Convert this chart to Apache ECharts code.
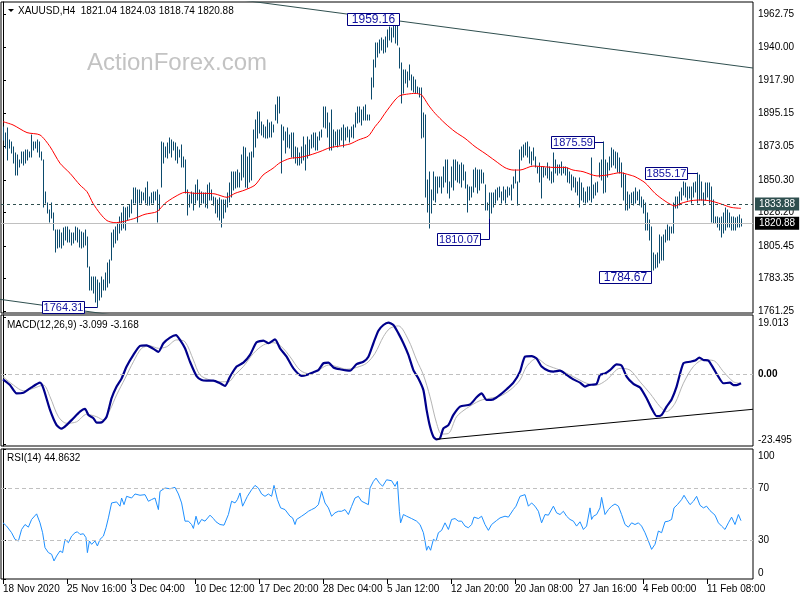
<!DOCTYPE html>
<html><head><meta charset="utf-8">
<script src="https://cdn.jsdelivr.net/npm/echarts@6/dist/echarts.min.js"></script>
<style>html,body{margin:0;padding:0;background:#fff}#c{width:800px;height:600px}</style>
</head><body><div id="c"></div>
<script>
// ---------------- DATA ----------------
const symbolName = 'XAUUSD,H4';
const lastOHLC = [1821.04, 1824.03, 1818.74, 1820.88];
const refLevel = 1833.88;
// H4 bars: [high, low], one per bar index 0..369
const bars = [
[1886.3,1877.3],[1881.8,1871.6],[1885.2,1863.7],[1877.3,1871.6],[1876.2,1868.2],[1872.8,1861.5],[1868.2,1853.5],[1867.1,1853.5],[1863.7,1859.2],[1869.4,1861.5],
[1869.4,1860.3],[1870.5,1861.5],[1870.5,1863.7],[1869.4,1866.0],[1880.7,1866.0],[1876.2,1870.5],[1876.2,1871.6],[1877.3,1869.4],[1876.2,1866.0],[1869.4,1863.7],
[1863.7,1832.1],[1842.2,1834.3],[1834.3,1827.5],[1829.8,1821.9],[1834.3,1824.2],[1827.5,1816.2],[1816.2,1801.6],[1816.2,1803.8],[1816.2,1804.9],[1814.0,1803.8],
[1817.4,1806.1],[1818.5,1809.5],[1818.5,1808.3],[1816.2,1808.3],[1814.0,1806.1],[1814.0,1807.2],[1818.5,1809.5],[1817.4,1808.3],[1816.2,1804.9],[1815.1,1803.8],
[1814.0,1804.9],[1816.2,1806.1],[1811.7,1791.4],[1791.4,1775.5],[1784.6,1775.5],[1784.6,1773.3],[1784.6,1767.6],[1782.3,1764.31],[1780.0,1768.8],[1784.6,1771.0],
[1782.3,1775.5],[1786.8,1775.5],[1793.6,1777.8],[1795.9,1780.0],[1814.0,1795.9],[1816.2,1804.9],[1818.5,1807.2],[1820.8,1809.5],[1825.3,1814.0],[1827.5,1816.2],
[1832.1,1817.4],[1831.0,1816.2],[1832.1,1823.0],[1833.2,1825.3],[1836.6,1827.5],[1844.5,1834.3],[1844.5,1834.3],[1843.4,1821.9],[1843.4,1834.3],[1842.2,1834.3],
[1841.1,1836.6],[1844.5,1834.3],[1849.0,1833.2],[1838.8,1833.2],[1841.1,1834.3],[1842.2,1834.3],[1842.2,1836.6],[1843.4,1821.9],[1840.0,1829.8],[1876.2,1845.6],
[1875.0,1861.5],[1872.8,1866.0],[1875.0,1864.8],[1878.4,1868.2],[1877.3,1866.0],[1876.2,1870.5],[1875.0,1863.7],[1872.8,1861.5],[1870.5,1866.0],[1873.9,1859.2],
[1866.0,1859.2],[1863.7,1841.1],[1843.4,1826.4],[1840.0,1832.1],[1842.2,1834.3],[1841.1,1829.8],[1846.7,1834.3],[1850.2,1836.6],[1843.4,1832.1],[1842.2,1834.3],
[1841.1,1834.3],[1841.1,1832.1],[1846.7,1830.9],[1847.9,1836.6],[1843.4,1836.6],[1838.8,1833.2],[1837.7,1827.5],[1836.6,1825.3],[1837.7,1823.0],[1836.6,1818.5],
[1836.6,1824.2],[1836.6,1828.7],[1841.1,1832.1],[1847.9,1835.4],[1855.8,1838.8],[1855.8,1843.4],[1855.8,1844.5],[1856.9,1845.6],[1854.7,1845.6],[1867.1,1850.2],
[1872.8,1852.4],[1871.6,1845.6],[1866.0,1844.5],[1868.2,1849.0],[1869.4,1850.2],[1884.1,1866.0],[1890.8,1872.8],[1896.5,1878.4],[1896.5,1881.8],[1889.7,1880.7],
[1887.5,1879.5],[1886.3,1878.4],[1890.8,1878.4],[1888.6,1879.5],[1889.7,1879.5],[1887.5,1882.9],[1901.0,1890.8],[1906.7,1888.6],[1906.7,1895.4],[1887.5,1854.7],
[1886.3,1877.3],[1882.9,1868.2],[1885.2,1872.8],[1880.7,1871.6],[1881.8,1866.0],[1881.8,1864.8],[1872.8,1861.5],[1871.6,1860.3],[1868.2,1860.3],[1872.8,1861.5],
[1879.5,1863.7],[1873.9,1856.9],[1879.5,1864.8],[1877.3,1867.1],[1880.7,1871.6],[1881.8,1872.8],[1881.8,1870.5],[1879.5,1870.5],[1882.9,1877.3],[1884.1,1879.5],
[1899.9,1886.3],[1899.9,1885.2],[1895.4,1879.5],[1888.6,1870.5],[1897.6,1870.5],[1884.1,1872.8],[1882.9,1873.9],[1884.1,1872.8],[1884.1,1873.9],[1885.2,1877.3],
[1887.5,1872.8],[1885.2,1877.3],[1886.3,1879.5],[1884.1,1876.2],[1886.3,1879.5],[1887.5,1878.4],[1895.4,1886.3],[1899.9,1888.6],[1899.9,1889.7],[1897.6,1887.5],
[1899.9,1890.8],[1901.0,1890.8],[1894.2,1890.8],[1894.2,1890.8],[1919.1,1905.0],[1931.5,1913.5],[1942.9,1927.0],[1942.9,1933.8],[1945.1,1936.1],[1946.2,1938.3],
[1945.1,1936.1],[1947.4,1937.2],[1951.9,1940.6],[1954.2,1945.1],[1953.0,1944.0],[1956.4,1947.4],[1956.4,1942.9],[1959.16,1941.7],[1939.5,1925.9],[1929.3,1902.2],
[1924.8,1908.9],[1924.8,1915.7],[1923.6,1913.5],[1928.2,1918.0],[1921.4,1911.2],[1920.2,1910.1],[1918.0,1908.9],[1913.5,1908.9],[1912.3,1906.7],[1912.3,1878.4],
[1895.4,1879.5],[1894.2,1838.8],[1850.2,1828.7],[1855.8,1817.4],[1843.4,1827.5],[1855.8,1836.6],[1852.4,1835.4],[1852.4,1841.1],[1852.4,1845.6],[1852.4,1841.1],
[1859.2,1845.6],[1863.7,1849.0],[1863.7,1841.1],[1849.0,1837.7],[1859.2,1845.6],[1863.7,1843.4],[1863.7,1850.2],[1862.6,1849.0],[1860.3,1847.9],[1861.5,1845.6],
[1860.3,1850.2],[1855.8,1844.5],[1846.7,1828.7],[1845.6,1836.6],[1845.6,1838.8],[1856.9,1842.2],[1858.1,1845.6],[1856.9,1841.1],[1856.9,1843.4],[1856.9,1847.9],
[1854.7,1847.9],[1846.7,1829.8],[1834.3,1829.8],[1841.1,1824.2],[1841.1,1827.5],[1841.1,1832.1],[1843.4,1834.3],[1844.5,1836.6],[1845.6,1838.8],[1842.2,1834.3],
[1845.6,1836.6],[1843.4,1834.3],[1845.6,1838.8],[1844.5,1840.0],[1846.7,1836.6],[1852.4,1844.5],[1856.9,1847.9],[1849.0,1833.2],[1870.5,1849.0],[1872.8,1863.7],
[1873.9,1866.0],[1875.5,1867.1],[1876.2,1866.0],[1872.8,1861.5],[1869.4,1860.3],[1871.6,1863.7],[1866.0,1859.2],[1859.2,1854.7],[1861.5,1849.0],[1859.2,1837.7],
[1859.2,1852.4],[1858.1,1853.5],[1861.5,1851.3],[1859.2,1850.2],[1855.8,1847.9],[1868.2,1849.0],[1863.7,1854.7],[1860.3,1853.5],[1860.3,1854.7],[1862.6,1853.5],
[1859.2,1854.7],[1859.2,1853.5],[1858.1,1849.0],[1855.8,1847.9],[1853.5,1843.4],[1852.4,1845.6],[1851.3,1842.2],[1849.0,1840.0],[1851.3,1832.1],[1847.9,1836.6],
[1844.5,1835.4],[1842.2,1834.3],[1845.6,1835.4],[1845.6,1836.6],[1864.8,1835.4],[1846.7,1837.7],[1847.9,1840.0],[1849.0,1842.2],[1861.5,1852.4],[1863.7,1850.2],
[1875.59,1841.1],[1863.7,1842.2],[1861.5,1852.4],[1866.0,1856.9],[1871.6,1859.2],[1870.5,1860.3],[1869.4,1858.1],[1868.2,1855.8],[1864.8,1854.7],[1861.5,1845.6],
[1854.7,1836.6],[1853.5,1829.8],[1842.2,1829.8],[1840.0,1830.9],[1841.1,1834.3],[1842.2,1833.2],[1844.5,1834.3],[1842.2,1836.6],[1843.4,1833.2],[1838.8,1832.1],
[1836.6,1827.5],[1834.3,1816.2],[1827.5,1816.2],[1823.0,1809.5],[1818.5,1784.67],[1800.4,1789.1],[1799.3,1790.2],[1800.4,1791.4],[1812.8,1793.6],[1811.7,1795.9],
[1812.8,1795.9],[1816.2,1808.3],[1819.6,1809.5],[1818.5,1809.5],[1818.5,1814.0],[1834.3,1814.0],[1838.8,1830.9],[1838.8,1830.9],[1842.2,1833.2],[1844.5,1836.6],
[1849.0,1840.0],[1848.3,1838.8],[1845.6,1836.6],[1845.6,1837.7],[1845.6,1834.3],[1847.9,1838.8],[1849.0,1842.2],[1855.17,1834.3],[1853.5,1836.6],[1849.0,1836.6],
[1841.1,1833.2],[1847.9,1836.6],[1847.9,1838.8],[1848.3,1834.3],[1845.6,1821.9],[1836.6,1820.8],[1825.3,1820.8],[1825.3,1818.5],[1824.2,1816.2],[1825.3,1811.7],
[1827.5,1814.0],[1830.9,1816.2],[1829.8,1818.5],[1827.5,1818.5],[1825.3,1816.2],[1825.3,1816.2],[1824.2,1816.2],[1825.3,1818.5],[1826.4,1818.5],[1824.03,1818.74]
];
// moving average (red) read at [barIndex, price]
const maLine = [[0,1889.7],[5,1887.5],[12,1882.3],[18.5,1880.7],[23.5,1872.8],[28.5,1861.5],[33.5,1854.7],[38.5,1846.7],[42,1842.2],[45,1834.3],[48.5,1827.5],[52,1822.6],[56,1821.2],[60,1821.9],[63,1823.0],[66,1824.2],[71,1826.9],[77,1828.7],[81,1834.3],[86,1838.8],[91,1841.8],[96,1841.1],[101,1841.1],[106,1840.7],[112,1838.4],[116,1841.1],[121,1843.4],[126,1846.7],[130,1853.5],[135,1858.1],[138.5,1861.9],[143.5,1864.8],[148.5,1865.5],[153.5,1867.1],[158.5,1869.4],[163.5,1872.1],[168.5,1873.2],[173.5,1874.6],[177.7,1877.3],[182.7,1880.0],[186,1886.3],[188.5,1890.4],[191,1895.4],[196,1904.4],[198.5,1907.4],[202.7,1908.5],[206,1908.9],[209.3,1907.8],[212.7,1901.0],[216,1895.4],[221,1888.6],[226,1882.9],[231,1878.4],[236,1872.8],[241,1868.2],[246,1863.3],[251,1858.5],[255,1856.9],[258.5,1856.9],[265,1859.6],[270,1859.2],[275,1858.7],[281,1858.7],[285,1856.9],[290,1855.8],[297,1852.9],[302,1853.5],[308.5,1855.1],[313.5,1853.5],[316,1852.4],[321,1848.3],[326,1841.1],[331,1835.9],[336,1832.5],[339,1834.3],[344,1836.1],[349,1836.6],[354,1835.9],[359,1833.9],[364,1831.6],[369,1830.9]];
// trendlines [barIndex, price]
const trendTop = [[120,1972.1],[375,1926.1]];
const trendLow = [[-1.5,1769.2],[60,1757.66]];
// labelled swing points
const annIdx = [47, 197, 243, 300, 324, 347];
const annPrice = [1764.31, 1959.16, 1810.07, 1875.59, 1784.67, 1855.17];
// MACD main / signal [barIndex, value]
const macdLine = [[0,-1.8],[3.5,-3.7],[6.8,-6.5],[10.2,-6.25],[13.5,-4.8],[18.5,-2.9],[20.2,-4.8],[23.5,-12.0],[26.8,-17.1],[29.3,-18.3],[31.8,-17.1],[35.2,-14.8],[38.5,-12.6],[41,-11.7],[42.7,-13.7],[45.2,-14.8],[46.8,-16.3],[49.3,-16.2],[51.8,-14.3],[54.3,-8.1],[56.8,-4.2],[59.3,-1.5],[61.8,2.5],[65.2,6.4],[68.5,9.4],[71.8,9.6],[75.2,8.4],[77.7,7.4],[80.2,10.3],[83.5,12.2],[86.5,13.0],[88.5,11.4],[91,8.6],[93.5,4.1],[96.8,-0.7],[99.3,-2.0],[101.8,-2.2],[105.2,-2.2],[108.5,-3.1],[111,-4.0],[113.5,-0.9],[116.8,2.5],[120.2,3.8],[123.5,6.4],[126.8,10.6],[130.2,11.2],[132.7,10.3],[136,11.6],[138.5,8.6],[141.8,5.8],[145.2,1.9],[149.3,-0.6],[151.8,-0.3],[155.2,0.6],[157.7,1.3],[160.2,3.6],[162.7,3.8],[165.2,2.2],[168.5,1.6],[173.5,1.1],[176.8,3.3],[180.2,4.1],[182.7,5.8],[185.2,10.3],[187.7,14.5],[190.2,16.4],[192.7,17.2],[195.2,16.4],[197.7,13.6],[200.2,10.3],[202.7,6.4],[205.2,1.3],[207.7,-1.5],[210.2,-5.4],[211.8,-12.0],[213.5,-17.6],[215.2,-21.0],[216.8,-21.9],[218.5,-21.5],[220.2,-18.2],[222.7,-17.1],[225.2,-13.7],[228.5,-10.9],[233.5,-10.2],[236.8,-7.8],[239.3,-6.5],[241.8,-8.7],[245.2,-8.5],[248.5,-7.0],[251.8,-5.1],[255.2,-2.9],[258.5,0.8],[261,5.8],[264.3,6.0],[266.8,5.2],[269.3,2.5],[272.7,1.1],[275.2,0.8],[278.5,1.1],[281.8,-0.3],[285.2,-1.8],[288.5,-2.9],[291,-4.2],[292.7,-3.7],[296.8,-3.3],[298.5,-0.3],[301,0.2],[303.5,1.3],[306.8,3.2],[309.3,2.8],[311.8,-0.9],[315.2,-3.3],[318.5,-4.5],[321.8,-8.1],[324.3,-11.5],[326.8,-14.1],[329.3,-13.7],[331.8,-10.9],[334.3,-8.5],[336.8,-4.2],[340.2,3.6],[343.5,4.1],[346,4.5],[348.2,5.5],[350.2,4.7],[352.7,4.5],[355.2,1.9],[357.7,-0.9],[360.2,-3.1],[363.5,-2.9],[365.2,-3.7],[366.8,-3.7],[369,-3.099]];
const signalLine = [[0,-0.9],[5.2,-3.7],[10.2,-5.6],[15.2,-4.8],[20.2,-3.7],[23.5,-7.6],[27.7,-14.3],[31.8,-16.5],[36.8,-16.0],[41.8,-13.5],[46.8,-14.3],[50.2,-15.4],[53.5,-12.0],[56.8,-7.0],[61,-1.5],[65.2,4.1],[69.3,8.6],[73.5,9.4],[77.7,8.6],[81.8,9.1],[86.8,11.4],[91,10.8],[95.2,4.7],[98.5,-0.3],[103.5,-2.0],[108.5,-2.6],[112.7,-2.6],[116,-0.3],[120.2,2.5],[125.2,6.9],[130.2,9.7],[135.2,10.5],[139.3,9.1],[143.5,5.8],[148.5,1.3],[153.5,0.0],[158.5,1.6],[162.7,3.0],[166.8,2.5],[171.8,1.6],[176.8,2.2],[181.8,3.6],[186,6.9],[190.2,12.5],[193.5,15.3],[197.7,16.1],[202.7,11.4],[206.8,4.7],[210.2,-0.3],[213.5,-7.6],[216.8,-16.5],[219.3,-20.1],[222.7,-19.9],[226.8,-14.3],[231.8,-11.5],[238.5,-8.9],[243.5,-8.1],[248.5,-7.4],[253.5,-5.4],[258.5,-2.0],[261.8,2.5],[266.8,5.2],[271.8,3.0],[278.5,1.3],[285.2,-0.9],[291.8,-3.1],[296.8,-3.7],[301.8,-2.0],[308.5,1.9],[313.5,1.3],[318.5,-2.6],[323.5,-6.5],[328.5,-10.9],[331.8,-12.6],[336,-9.8],[340.2,-3.1],[345.2,2.5],[350.2,4.7],[355.2,4.5],[360.2,0.8],[365.2,-2.6],[369,-3.168]];
const macdTrend = [[216.8,-21.85],[375,-11.81]];
// RSI(14) [barIndex, value]
const rsiLine = [[0,43.2],[1.8,40.7],[4.3,35.6],[6,30.5],[7.7,29.2],[9.3,38.1],[11,41.9],[12.7,39.9],[14.3,45.8],[16.8,50.1],[18.5,43.2],[19.8,35.6],[21,24.1],[22.7,20.3],[24.3,19.0],[25.5,13.9],[26.8,17.7],[28.5,21.6],[29.8,20.3],[31,30.5],[32.7,27.9],[34.3,33.0],[36,35.6],[37.2,36.3],[38.5,34.3],[40.2,34.8],[41.5,31.8],[42.2,20.3],[43.2,29.2],[44.3,26.7],[46,29.2],[47.2,25.4],[48.5,30.5],[50.2,33.0],[51.5,39.4],[52.7,47.0],[54.3,58.5],[56.8,59.3],[58.5,56.0],[59.3,62.3],[60.5,57.2],[61.8,63.6],[64.3,62.3],[66,65.4],[68.5,64.4],[71,64.9],[72.7,59.8],[74.3,61.1],[76,62.3],[77.7,53.4],[78.5,67.4],[81,70.0],[83.5,69.4],[86,70.5],[87.7,65.4],[89.3,58.5],[91,44.5],[92.7,44.5],[94.3,41.9],[95.2,38.9],[96.5,48.3],[97.7,41.9],[99.3,45.8],[101,44.5],[103.5,49.1],[105.2,46.5],[106.5,44.0],[108.5,41.9],[110.5,41.4],[112.7,49.6],[114.3,59.8],[116,58.5],[117.2,61.1],[118.5,66.2],[119.8,56.0],[121,59.8],[122.2,63.6],[124.3,68.7],[126,72.0],[127.7,70.0],[129.3,65.4],[131,63.6],[132.7,65.4],[134.3,63.6],[135.5,72.0],[137.2,61.1],[138.8,54.7],[141,53.4],[143.5,48.3],[144.8,47.0],[146,41.9],[146.8,45.8],[149.3,48.3],[151,50.1],[152.7,52.1],[154.3,53.4],[156,54.7],[157.7,57.2],[159.3,67.4],[161,58.5],[162.7,54.7],[164.3,48.3],[166,50.9],[167.7,52.1],[169.3,52.1],[171,53.4],[172.7,49.6],[174.3,55.9],[176,62.3],[177.7,63.6],[179.3,59.8],[181,58.5],[182.7,57.2],[183.5,70.0],[185.2,75.1],[186.5,77.6],[188.2,73.8],[189.8,71.3],[191.8,76.3],[194.3,75.6],[196,71.3],[197.2,75.1],[198.2,52.1],[198.8,43.2],[200.2,49.6],[201.8,48.3],[204.3,46.5],[206.8,44.5],[208.5,41.9],[210.2,35.6],[211,29.2],[211.8,22.1],[212.7,25.4],[213.8,22.1],[215.2,30.5],[216.5,29.2],[217.7,35.6],[219.3,37.4],[221,43.2],[222.7,38.1],[224.3,45.8],[226,46.5],[227.7,44.5],[229.3,44.5],[231,40.7],[232.7,39.4],[234.3,41.9],[235.5,47.6],[237.7,46.5],[239.3,48.3],[241,41.9],[242.7,37.4],[244.3,41.9],[246.8,45.0],[248.5,47.0],[251,48.3],[252.7,47.6],[255.2,53.4],[256.5,56.0],[258.5,63.6],[261,64.9],[262.7,56.0],[264.3,58.5],[266,56.0],[267.7,52.1],[269.3,43.2],[271,49.6],[272.7,49.1],[275.2,56.0],[276.8,50.9],[278.5,49.6],[280.2,52.1],[281.8,48.3],[283.5,45.8],[285.2,44.5],[286.8,40.7],[288.5,44.0],[290.2,38.1],[291.8,40.7],[293.5,54.7],[294.3,45.8],[295.2,48.3],[296.8,49.6],[298.5,54.7],[299.3,62.8],[301,49.6],[302.7,53.4],[304.3,56.0],[306,57.7],[307.7,56.0],[309.3,49.6],[311,41.9],[312.7,39.9],[314.3,43.2],[316,41.9],[317.7,43.2],[319.3,40.7],[321,35.6],[322.7,29.2],[324.3,22.8],[326,26.7],[327.7,36.9],[329.3,35.6],[331,44.0],[332.7,44.5],[334.3,45.8],[335.5,54.7],[337.2,57.2],[339.3,61.1],[340.5,64.4],[341.8,61.1],[343.5,57.2],[345.2,59.8],[346.8,63.6],[348.5,56.7],[350.2,54.7],[351.8,56.0],[353.5,52.6],[356,49.1],[357.7,43.2],[359.3,40.7],[361,38.1],[362.7,43.2],[364.3,47.6],[366,41.9],[367.7,49.6],[369,44.8632]];
// axis ticks / labels
const priceTicks = [1962.75, 1940.00, 1917.90, 1895.15, 1873.05, 1850.30, 1828.20, 1805.45, 1783.35, 1761.25];
const macdTicks = [19.013, 0, -23.495];
const rsiTicks = [0, 30, 70, 100];
const rsiLevels = [30, 70];
const timeTickIdx = [0, 32, 64, 96, 128, 160, 192, 224, 256, 288, 320, 352];
const timeLabels = ['18 Nov 2020','25 Nov 16:00','3 Dec 04:00','10 Dec 12:00','17 Dec 20:00','28 Dec 04:00','5 Jan 12:00','12 Jan 20:00','20 Jan 08:00','27 Jan 16:00','4 Feb 00:00','11 Feb 08:00'];

// ---------------- STYLE ----------------
const FONT = '"Liberation Sans", Arial, sans-serif';
const BAR = '#0b4a6c';
const NAVY = '#000080';
const SLATE = '#2f4f4f';
const annStyle = [
  {gap: 13, w: 42, fs: 11},
  {gap: -2, w: 52, fs: 12},
  {gap: 9, w: 43, fs: 11, toBar: true},
  {gap: 9, w: 43, fs: 11},
  {gap: 0, w: 52, fs: 12},
  {gap: 10, w: 42, fs: 11}
];
const XMIN = -1, XMAX = 375;

const chart = echarts.init(document.getElementById('c'), null, {renderer: 'canvas'});

function xAx(gi, show) {
  const a = {type: 'value', gridIndex: gi, min: XMIN, max: XMAX, show: show, splitLine: {show: false}};
  if (show) {
    a.axisLine = {show: false};
    a.axisTick = {show: true, customValues: timeTickIdx, length: 5, lineStyle: {color: '#000'}};
    a.axisLabel = {show: true, customValues: timeTickIdx, align: 'left', margin: 5, color: '#000', fontSize: 10, fontFamily: FONT,
      formatter: v => timeLabels[timeTickIdx.indexOf(Math.round(v))] || ''};
  }
  return a;
}
function yAx(gi, min, max, ticks, fmt, rich) {
  return {type: 'value', gridIndex: gi, position: 'right', min: min, max: max,
    axisLine: {show: true, lineStyle: {color: '#000'}},
    axisTick: {show: true, customValues: ticks, length: 3, lineStyle: {color: '#000'}},
    axisLabel: {show: true, customValues: ticks, formatter: fmt, color: '#000', fontSize: 10, fontFamily: FONT, margin: 5, rich: rich || {}},
    splitLine: {show: false}};
}
const lbl = {fontSize: 10, fontFamily: FONT, color: '#000'};

const header = symbolName + '  ' + lastOHLC.map(v => v.toFixed(2)).join(' ');

const option = {
  animation: false,
  backgroundColor: '#fff',
  grid: [
    {left: 1, top: 2, width: 752, height: 311, show: true, borderColor: '#000', borderWidth: 1},
    {left: 1, top: 315, width: 752, height: 131, show: true, borderColor: '#000', borderWidth: 1},
    {left: 1, top: 449, width: 752, height: 130, show: true, borderColor: '#000', borderWidth: 1}
  ],
  xAxis: [xAx(0, false), xAx(1, false), xAx(2, true)],
  yAxis: [
    yAx(0, 1759.93, 1970.89, priceTicks, v => v.toFixed(2)),
    yAx(1, -24.10, 19.75, macdTicks,
      v => v > 1 ? '{t|' + v.toFixed(3) + '}' : (v < -1 ? '{b|' + v.toFixed(3) + '}' : '{z|0.00}'),
      {t: Object.assign({padding: [12, 0, 0, 0]}, lbl), b: Object.assign({padding: [0, 0, 8, 0]}, lbl), z: Object.assign({fontWeight: 'bold'}, lbl)}),
    yAx(2, 0, 100, rsiTicks,
      v => v >= 100 ? '{t|' + v + '}' : (v <= 0 ? '{b|' + v + '}' : '{n|' + v + '}'),
      {t: Object.assign({padding: [14, 0, 0, 0]}, lbl), b: Object.assign({padding: [0, 0, 12, 0]}, lbl), n: lbl})
  ],
  graphic: [
    {type: 'polygon', silent: true, shape: {points: [[8, 9], [14, 9], [11, 12]]}, style: {fill: '#000'}},
    {type: 'text', silent: true, x: 18, y: 11, style: {text: header, font: '10px ' + FONT, fill: '#000', verticalAlign: 'middle'}},
    {type: 'text', silent: true, z: -10, x: 87, y: 63, style: {text: 'ActionForex.com', font: '24px ' + FONT, fill: '#c3c3c3', verticalAlign: 'middle'}},
    {type: 'text', silent: true, x: 7, y: 325, style: {text: 'MACD(12,26,9) ' + macdLine[macdLine.length - 1][1].toFixed(3) + ' ' + signalLine[signalLine.length - 1][1].toFixed(3), font: '10px ' + FONT, fill: '#000', verticalAlign: 'middle'}},
    {type: 'text', silent: true, x: 7, y: 458, style: {text: 'RSI(14) ' + rsiLine[rsiLine.length - 1][1].toFixed(4), font: '10px ' + FONT, fill: '#000', verticalAlign: 'middle'}}
  ],
  series: [
    {
      type: 'custom', name: 'bars', xAxisIndex: 0, yAxisIndex: 0, silent: true,
      data: bars.map((b, i) => [i, b[1], b[0]]),
      encode: {x: 0, y: [1, 2]},
      renderItem: (params, api) => {
        const pl = api.coord([api.value(0), api.value(1)]);
        const ph = api.coord([api.value(0), api.value(2)]);
        const x = Math.round(pl[0]) + 0.5;
        return {type: 'line', shape: {x1: x, y1: Math.round(pl[1]) + 0.5, x2: x, y2: Math.round(ph[1]) - 0.5},
          style: {stroke: BAR, lineWidth: 1}};
      }
    },
    {
      type: 'line', name: 'MA', xAxisIndex: 0, yAxisIndex: 0, data: maLine, smooth: 0.25,
      showSymbol: false, symbol: 'none', lineStyle: {color: '#ff0000', width: 1}, silent: true,
      markLine: {
        silent: true, symbol: ['none', 'none'], animation: false,
        data: [
          {yAxis: refLevel, lineStyle: {color: SLATE, type: [3, 3], width: 1},
            label: {show: true, position: 'end', distance: 2, formatter: refLevel.toFixed(2), color: '#fff', backgroundColor: SLATE, padding: [2, 4, 1, 4], fontSize: 10, fontFamily: FONT}},
          {yAxis: lastOHLC[3], lineStyle: {color: '#c0c0c0', type: 'solid', width: 1},
            label: {show: true, position: 'end', distance: 2, formatter: lastOHLC[3].toFixed(2), color: '#fff', backgroundColor: '#000', padding: [2, 4, 1, 4], fontSize: 10, fontFamily: FONT}}
        ]
      }
    },
    {type: 'line', xAxisIndex: 0, yAxisIndex: 0, data: trendTop, showSymbol: false, symbol: 'none', silent: true, lineStyle: {color: SLATE, width: 1}},
    {type: 'line', xAxisIndex: 0, yAxisIndex: 0, data: trendLow, showSymbol: false, symbol: 'none', silent: true, lineStyle: {color: SLATE, width: 1}},
    {
      type: 'custom', name: 'labels', xAxisIndex: 0, yAxisIndex: 0, silent: true, z: 5,
      data: annIdx.map((i, k) => [i, annPrice[k], bars[i][1]]),
      encode: {x: 0, y: 1},
      renderItem: (params, api) => {
        const k = params.dataIndex;
        const st = annStyle[k];
        const p = api.coord([api.value(0), api.value(1)]);
        const bx = Math.round(p[0]) + 0.5;
        const py = Math.round(p[1]) + 0.5;
        const right = bx - st.gap;
        const left = right - st.w;
        const h = 12;
        const ch = [
          {type: 'rect', shape: {x: left, y: py - h / 2, width: st.w, height: h}, style: {fill: '#fff', stroke: NAVY, lineWidth: 1}},
          {type: 'text', style: {x: left + st.w / 2, y: py + 0.5, text: api.value(1).toFixed(2), fill: '#1010a0', font: st.fs + 'px ' + FONT, align: 'center', verticalAlign: 'middle'}}
        ];
        if (st.gap > 0) ch.push({type: 'line', shape: {x1: right, y1: py, x2: bx, y2: py}, style: {stroke: NAVY, lineWidth: 1}});
        if (st.toBar) {
          const pb = api.coord([api.value(0), api.value(2)]);
          ch.push({type: 'line', shape: {x1: bx, y1: py, x2: bx, y2: pb[1]}, style: {stroke: NAVY, lineWidth: 1}});
        }
        return {type: 'group', children: ch};
      }
    },
    {type: 'line', name: 'signal', xAxisIndex: 1, yAxisIndex: 1, data: signalLine, smooth: 0.3, showSymbol: false, symbol: 'none', silent: true,
      lineStyle: {color: '#b4b4b4', width: 1},
      markLine: {silent: true, symbol: ['none', 'none'], label: {show: false}, lineStyle: {color: '#c0c0c0', type: [4, 3], width: 1}, data: [{yAxis: 0}]}},
    {type: 'line', name: 'MACD', xAxisIndex: 1, yAxisIndex: 1, data: macdLine, smooth: 0.2, showSymbol: false, symbol: 'none', silent: true,
      lineStyle: {color: '#00008b', width: 2.2}},
    {type: 'line', xAxisIndex: 1, yAxisIndex: 1, data: macdTrend, showSymbol: false, symbol: 'none', silent: true, lineStyle: {color: '#000', width: 1}},
    {type: 'line', name: 'RSI', xAxisIndex: 2, yAxisIndex: 2, data: rsiLine, showSymbol: false, symbol: 'none', silent: true,
      lineStyle: {color: '#1e90ff', width: 1},
      markLine: {silent: true, symbol: ['none', 'none'], label: {show: false}, lineStyle: {color: '#c0c0c0', type: [4, 3], width: 1},
        data: rsiLevels.map(v => ({yAxis: v}))}}
  ]
};
chart.setOption(option);
</script>
</body></html>
